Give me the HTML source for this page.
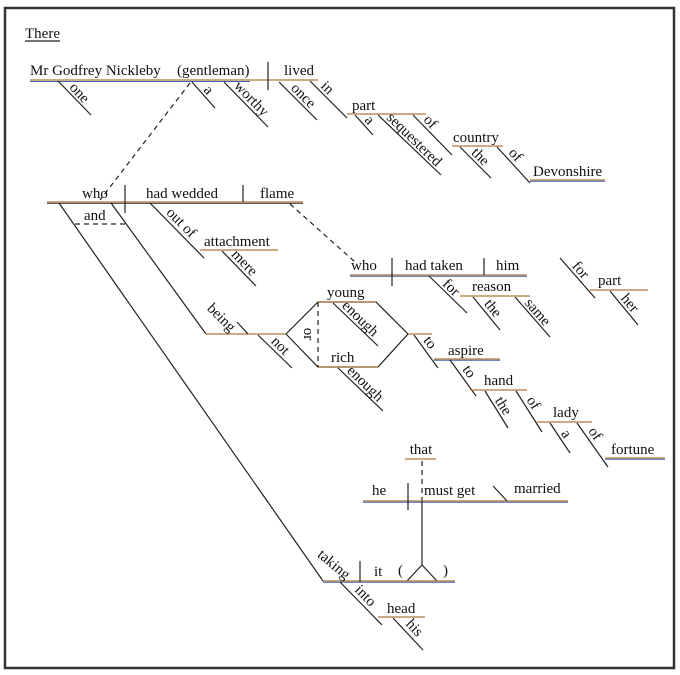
<!DOCTYPE html>
<html><head><meta charset="utf-8"><style>
html,body{margin:0;padding:0;background:#fff;}
svg{display:block;}
text{font-family:"Liberation Serif",serif;font-size:15px;fill:#111;}
.h{stroke:#b07838;stroke-width:1.3;}
.hb{stroke:#3c64a8;stroke-width:1;}
.s{stroke:#222;stroke-width:1.2;fill:none;}
.d{stroke:#222;stroke-width:1.2;stroke-dasharray:5,4;fill:none;}
</style></head><body>
<svg width="680" height="675" viewBox="0 0 680 675" xmlns="http://www.w3.org/2000/svg">
<rect x="5" y="8" width="669" height="660" fill="none" stroke="#333" stroke-width="2.5"/>

<text x="25" y="38">There</text>
<line x1="25" y1="41" x2="60" y2="41" class="s"/>

<line x1="30" y1="80" x2="318" y2="80" class="h"/><line x1="30" y1="81.5" x2="250" y2="81.5" class="hb"/>
<line x1="268" y1="62" x2="268" y2="90" class="s"/>
<text x="30" y="75">Mr Godfrey Nickleby</text>
<text x="177" y="75">(gentleman)</text>
<text x="284" y="75">lived</text>

<line x1="58" y1="81" x2="91" y2="115" class="s"/><text transform="translate(74,98) rotate(47)" text-anchor="middle" y="-3">one</text>
<line x1="192" y1="82" x2="215" y2="108" class="s"/><text transform="translate(203,95) rotate(48)" text-anchor="middle" y="-3">a</text>
<line x1="224" y1="82" x2="268" y2="127" class="s"/><text transform="translate(246,104) rotate(46)" text-anchor="middle" y="-3">worthy</text>
<line x1="279" y1="82" x2="317" y2="120" class="s"/><text transform="translate(298,101) rotate(45)" text-anchor="middle" y="-3">once</text>
<line x1="310" y1="81" x2="347" y2="118" class="s"/><text transform="translate(322,93) rotate(45)" text-anchor="middle" y="-3">in</text>
<line x1="347" y1="114" x2="426" y2="114" class="h"/><text x="352" y="110">part</text>
<line x1="355" y1="115" x2="373" y2="135" class="s"/><text transform="translate(364,125) rotate(48)" text-anchor="middle" y="-3">a</text>
<line x1="378" y1="115" x2="441" y2="175" class="s"/><text transform="translate(409,145) rotate(44)" text-anchor="middle" y="-3">sequestered</text>
<line x1="413" y1="115" x2="452" y2="155" class="s"/><text transform="translate(425,127) rotate(46)" text-anchor="middle" y="-3">of</text>
<line x1="452" y1="146" x2="503" y2="146" class="h"/><text x="453" y="142">country</text>
<line x1="460" y1="147" x2="491" y2="178" class="s"/><text transform="translate(475,162) rotate(45)" text-anchor="middle" y="-3">the</text>
<line x1="497" y1="147" x2="530" y2="183" class="s"/><text transform="translate(510,160) rotate(47)" text-anchor="middle" y="-3">of</text>
<line x1="530" y1="180" x2="605" y2="180" class="h"/><line x1="530" y1="181.3" x2="605" y2="181.3" class="hb"/><text x="533" y="176">Devonshire</text>

<line x1="190" y1="83" x2="100" y2="200" class="d"/>

<line x1="47" y1="202" x2="303" y2="202" class="h"/><line x1="47" y1="203.3" x2="303" y2="203.3" class="s" style="stroke-width:0.8"/>
<line x1="125" y1="185" x2="125" y2="213" class="s"/>
<line x1="243" y1="185" x2="243" y2="202" class="s"/>
<text x="82" y="198">who</text>
<text x="146" y="198">had wedded</text>
<text x="260" y="198">flame</text>
<text x="84" y="220">and</text>
<line x1="75" y1="224" x2="125" y2="224" class="d"/>
<line x1="59" y1="203" x2="323" y2="581" class="s"/>
<line x1="111" y1="203" x2="206" y2="334" class="s"/>
<text transform="translate(216,323) rotate(45)" text-anchor="middle" y="-3">being</text>

<line x1="150" y1="203" x2="204" y2="258" class="s"/><text transform="translate(176,228) rotate(45)" text-anchor="middle" y="-3">out of</text>
<line x1="200" y1="250" x2="278" y2="250" class="h"/><text x="204" y="246">attachment</text>
<line x1="222" y1="251" x2="256" y2="286" class="s"/><text transform="translate(239,268) rotate(46)" text-anchor="middle" y="-3">mere</text>

<line x1="206" y1="334" x2="286" y2="334" class="h"/>
<line x1="237" y1="322" x2="248" y2="334" class="s"/>
<line x1="258" y1="335" x2="292" y2="368" class="s"/><text transform="translate(275,351) rotate(45)" text-anchor="middle" y="-3">not</text>
<polyline points="286,334 318,302 376,302 408,334 378,367 318,367 286,334" class="s"/>
<line x1="318" y1="302" x2="376" y2="302" class="h"/>
<line x1="318" y1="367" x2="378" y2="367" class="h"/>
<line x1="318" y1="302" x2="318" y2="367" class="d"/>
<text transform="translate(308,334) rotate(90)" text-anchor="middle" y="4">or</text>
<text x="327" y="297">young</text>
<text x="331" y="362">rich</text>
<line x1="333" y1="303" x2="378" y2="346" class="s"/><text transform="translate(355,324) rotate(44)" text-anchor="middle" y="-3">enough</text>
<line x1="338" y1="368" x2="383" y2="411" class="s"/><text transform="translate(360,389) rotate(44)" text-anchor="middle" y="-3">enough</text>
<line x1="408" y1="334" x2="432" y2="334" class="h"/>
<line x1="414" y1="335" x2="438" y2="368" class="s"/><text transform="translate(424,347) rotate(53)" text-anchor="middle" y="-3">to</text>
<line x1="434" y1="359" x2="500" y2="359" class="h"/><line x1="434" y1="360.3" x2="500" y2="360.3" class="hb"/><text x="448" y="355">aspire</text>
<line x1="450" y1="360" x2="476" y2="396" class="s"/><text transform="translate(463,376) rotate(54)" text-anchor="middle" y="-3">to</text>
<line x1="470" y1="390" x2="527" y2="390" class="h"/><text x="484" y="385">hand</text>
<line x1="485" y1="391" x2="508" y2="428" class="s"/><text transform="translate(497,410) rotate(57)" text-anchor="middle" y="-3">the</text>
<line x1="516" y1="391" x2="542" y2="432" class="s"/><text transform="translate(527,407) rotate(57)" text-anchor="middle" y="-3">of</text>
<line x1="537" y1="422" x2="592" y2="422" class="h"/><text x="553" y="417">lady</text>
<line x1="550" y1="423" x2="570" y2="453" class="s"/><text transform="translate(560,438) rotate(56)" text-anchor="middle" y="-3">a</text>
<line x1="577" y1="423" x2="608" y2="467" class="s"/><text transform="translate(589,438) rotate(55)" text-anchor="middle" y="-3">of</text>
<line x1="605" y1="458" x2="665" y2="458" class="h"/><line x1="605" y1="459.3" x2="665" y2="459.3" class="hb"/><text x="611" y="454">fortune</text>

<line x1="290" y1="204" x2="355" y2="262" class="d"/>
<line x1="350" y1="275" x2="527" y2="275" class="h"/><line x1="350" y1="276.3" x2="527" y2="276.3" class="hb"/>
<line x1="392" y1="258" x2="392" y2="286" class="s"/>
<line x1="484" y1="258" x2="484" y2="275" class="s"/>
<text x="351" y="270">who</text>
<text x="405" y="270">had taken</text>
<text x="496" y="270">him</text>
<line x1="429" y1="276" x2="467" y2="313" class="s"/><text transform="translate(446,293) rotate(44)" text-anchor="middle" y="-3">for</text>
<line x1="460" y1="296" x2="530" y2="296" class="h"/><text x="472" y="291">reason</text>
<line x1="473" y1="297" x2="500" y2="330" class="s"/><text transform="translate(487,313) rotate(51)" text-anchor="middle" y="-3">the</text>
<line x1="515" y1="297" x2="550" y2="337" class="s"/><text transform="translate(532,317) rotate(49)" text-anchor="middle" y="-3">same</text>

<line x1="560" y1="258" x2="595" y2="298" class="s"/><text transform="translate(575,275) rotate(49)" text-anchor="middle" y="-3">for</text>
<line x1="590" y1="290" x2="648" y2="290" class="h"/><text x="598" y="285">part</text>
<line x1="610" y1="291" x2="638" y2="325" class="s"/><text transform="translate(624,308) rotate(50)" text-anchor="middle" y="-3">her</text>

<line x1="405" y1="459" x2="436" y2="459" class="h"/><text x="421" y="454" text-anchor="middle">that</text>
<line x1="422" y1="461" x2="422" y2="501" class="d"/>
<line x1="363" y1="501" x2="568" y2="501" class="h"/><line x1="363" y1="502.3" x2="568" y2="502.3" class="hb"/>
<line x1="408" y1="483" x2="408" y2="510" class="s"/>
<line x1="493" y1="486" x2="507" y2="501" class="s"/>
<text x="372" y="495">he</text>
<text x="424" y="495">must get</text>
<text x="514" y="493">married</text>
<line x1="422" y1="501" x2="422" y2="565" class="s"/>
<polyline points="407,581 422,565 437,581" class="s"/>
<text x="398" y="575">(</text>
<text x="443" y="575">)</text>

<line x1="323" y1="581" x2="455" y2="581" class="h"/><line x1="323" y1="582.3" x2="455" y2="582.3" class="hb"/>
<line x1="360" y1="561" x2="360" y2="582" class="s"/>
<text transform="translate(331,568) rotate(40)" text-anchor="middle">taking</text>
<text x="374" y="576">it</text>
<line x1="340" y1="582" x2="382" y2="625" class="s"/><text transform="translate(360,601) rotate(46)" text-anchor="middle" y="-3">into</text>
<line x1="378" y1="617" x2="425" y2="617" class="h"/><text x="387" y="613">head</text>
<line x1="393" y1="618" x2="423" y2="650" class="s"/><text transform="translate(409,633) rotate(47)" text-anchor="middle" y="-3">his</text>
</svg>
</body></html>
